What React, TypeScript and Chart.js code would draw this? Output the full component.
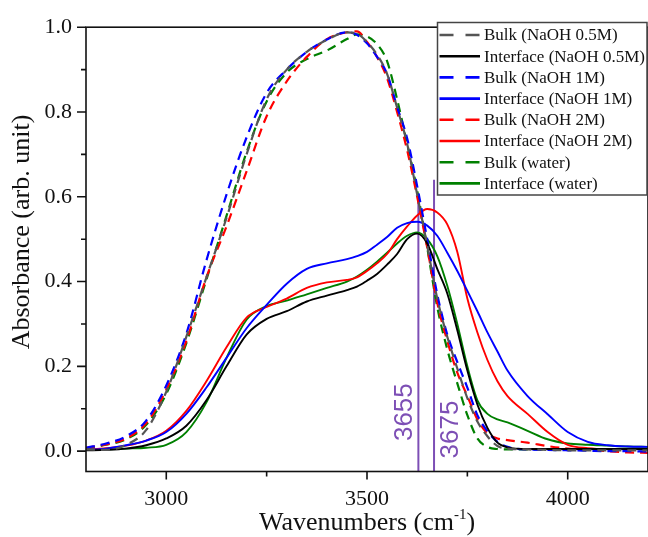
import React, { useEffect, useRef } from 'react';
import { Chart, registerables } from 'chart.js';

Chart.register(...registerables);

// ---------- data ----------
const wavenumbers = [2800, 2850, 2900, 2950, 3000, 3050, 3100, 3150, 3200, 3250, 3300, 3350, 3400, 3450, 3475, 3500, 3525, 3550, 3575, 3600, 3625, 3650, 3675, 3700, 3725, 3750, 3775, 3800, 3825, 3850, 3900, 3950, 4000, 4050, 4100, 4150, 4200];

const bulkNaOH05 = [0.004, 0.003, 0.015, 0.05, 0.14, 0.27, 0.41, 0.55, 0.7, 0.83, 0.9, 0.942, 0.97, 0.988, 0.985, 0.965, 0.935, 0.89, 0.81, 0.725, 0.605, 0.485, 0.36, 0.27, 0.195, 0.125, 0.07, 0.035, 0.012, 0.006, 0.004, 0.003, 0.002, 0.002, 0.002, 0.002, 0.002];
const interfaceNaOH05 = [0.002, 0.003, 0.006, 0.014, 0.03, 0.06, 0.12, 0.2, 0.275, 0.312, 0.33, 0.353, 0.367, 0.38, 0.388, 0.402, 0.418, 0.44, 0.465, 0.5, 0.513, 0.49, 0.43, 0.372, 0.285, 0.19, 0.11, 0.055, 0.02, 0.009, 0.005, 0.005, 0.005, 0.005, 0.005, 0.005, 0.005];
const bulkNaOH1 = [0.008, 0.018, 0.035, 0.072, 0.155, 0.277, 0.45, 0.605, 0.74, 0.845, 0.9, 0.942, 0.971, 0.988, 0.982, 0.962, 0.93, 0.89, 0.812, 0.738, 0.625, 0.5, 0.37, 0.275, 0.21, 0.15, 0.085, 0.047, 0.022, 0.01, 0.004, 0.003, 0.002, 0.001, 0.0, 0.0, -0.001];
const interfaceNaOH1 = [0.003, 0.006, 0.014, 0.025, 0.045, 0.088, 0.15, 0.22, 0.29, 0.345, 0.395, 0.43, 0.443, 0.453, 0.46, 0.47, 0.487, 0.505, 0.527, 0.538, 0.541, 0.532, 0.508, 0.468, 0.425, 0.378, 0.33, 0.28, 0.235, 0.19, 0.13, 0.087, 0.045, 0.022, 0.014, 0.011, 0.01];
const bulkNaOH2 = [0.008, 0.016, 0.03, 0.066, 0.145, 0.26, 0.41, 0.53, 0.66, 0.79, 0.872, 0.93, 0.972, 0.988, 0.99, 0.965, 0.93, 0.88, 0.8, 0.71, 0.6, 0.48, 0.35, 0.26, 0.185, 0.13, 0.075, 0.042, 0.03, 0.026, 0.02, 0.012, 0.006, 0.004, 0.0, -0.003, -0.004];
const interfaceNaOH2 = [0.003, 0.007, 0.013, 0.025, 0.048, 0.095, 0.165, 0.245, 0.315, 0.34, 0.36, 0.385, 0.398, 0.404, 0.41, 0.425, 0.443, 0.465, 0.5, 0.53, 0.556, 0.571, 0.563, 0.535, 0.47, 0.36, 0.28, 0.215, 0.165, 0.13, 0.088, 0.045, 0.015, 0.007, 0.005, 0.005, 0.005];
const bulkWater = [0.006, 0.015, 0.028, 0.062, 0.135, 0.255, 0.405, 0.555, 0.705, 0.825, 0.893, 0.925, 0.945, 0.972, 0.983, 0.978, 0.96, 0.92, 0.83, 0.725, 0.615, 0.48, 0.34, 0.24, 0.16, 0.085, 0.03, 0.01, 0.005, 0.004, 0.004, 0.004, 0.004, 0.004, 0.004, 0.004, 0.004];
const interfaceWater = [0.003, 0.004, 0.006, 0.008, 0.015, 0.045, 0.115, 0.22, 0.31, 0.342, 0.355, 0.37, 0.385, 0.4, 0.412, 0.428, 0.447, 0.468, 0.49, 0.508, 0.516, 0.5, 0.46, 0.39, 0.3, 0.2, 0.12, 0.088, 0.075, 0.068, 0.048, 0.028, 0.018, 0.015, 0.013, 0.011, 0.01];

const seriesLabels = ['Bulk (NaOH 0.5M)', 'Interface (NaOH 0.5M)', 'Bulk (NaOH 1M)', 'Interface (NaOH 1M)', 'Bulk (NaOH 2M)', 'Interface (NaOH 2M)', 'Bulk (water)', 'Interface (water)'];
const seriesValues = [bulkNaOH05, interfaceNaOH05, bulkNaOH1, interfaceNaOH1, bulkNaOH2, interfaceNaOH2, bulkWater, interfaceWater];
const seriesColors = ['#555555', '#000000', '#0000ff', '#0000ff', '#ff0000', '#ff0000', '#008000', '#008000'];
const seriesDashed = [true, false, true, false, true, false, true, false];

const markerPositions = [3628, 3667];
const markerTops = [0.605, 0.64];
const markerLabels = ['3655', '3675'];
const markerLabelY = [0.092, 0.051];

const xTickValues = [3000, 3250, 3500, 3750, 4000];
const xTickLabels = ['3000', '', '3500', '', '4000'];
const yTickValues = [0, 0.1, 0.2, 0.3, 0.4, 0.5, 0.6, 0.7, 0.8, 0.9, 1.0];
const yTickLabels = ['0.0', '', '0.2', '', '0.4', '', '0.6', '', '0.8', '', '1.0'];

const xMin = 2800, xMax = 4200, yMin = -0.048, yMax = 1.0;

const SERIF = '"Liberation Serif", "Times New Roman", serif';
const SANS = '"Liberation Sans", Arial, sans-serif';
const PURPLE = '#7d4fb5';

const decorPlugin = {
  id: 'decor',
  afterDraw(chart: any) {
    const { ctx, chartArea: a, scales } = chart;
    const xs = scales.x, ys = scales.y;
    ctx.save();
    // frame
    ctx.strokeStyle = '#111';
    ctx.lineWidth = 1.6;
    ctx.setLineDash([]);
    ctx.strokeRect(a.left, a.top, a.right - a.left, a.bottom - a.top);
    // ticks
    ctx.beginPath();
    xTickValues.forEach((v, i) => {
      const px = xs.getPixelForValue(v);
      const len = xTickLabels[i] ? 8 : 5;
      ctx.moveTo(px, a.bottom);
      ctx.lineTo(px, a.bottom + len);
    });
    yTickValues.forEach((v, i) => {
      const py = ys.getPixelForValue(v);
      const len = yTickLabels[i] ? 9 : 5;
      ctx.moveTo(a.left, py);
      ctx.lineTo(a.left - len, py);
    });
    ctx.stroke();

    // marker labels
    ctx.fillStyle = PURPLE;
    ctx.font = '26px ' + SANS;
    ctx.textAlign = 'center';
    ctx.textBaseline = 'middle';
    markerLabels.forEach((lab, i) => {
      const px = xs.getPixelForValue(markerPositions[i]) + (i === 0 ? -15 : 16);
      const py = ys.getPixelForValue(markerLabelY[i]);
      ctx.save();
      ctx.translate(px, py);
      ctx.rotate(-Math.PI / 2);
      ctx.fillText(lab, 0, 1);
      ctx.restore();
    });

    // legend
    const L = 437.5, T = 22.5, R = 647, B = 195;
    ctx.fillStyle = '#ffffff';
    ctx.fillRect(L, T, R - L, B - T);
    ctx.strokeStyle = '#444';
    ctx.lineWidth = 1.5;
    ctx.strokeRect(L, T, R - L, B - T);
    ctx.font = '17px ' + SERIF;
    ctx.textAlign = 'left';
    ctx.textBaseline = 'middle';
    seriesLabels.forEach((lab, i) => {
      const ds = chart.data.datasets[i];
      const cy = 35 + i * 21.2;
      ctx.strokeStyle = ds.borderColor;
      ctx.lineWidth = 2.6;
      ctx.setLineDash(seriesDashed[i] ? [14, 12] : []);
      ctx.beginPath();
      ctx.moveTo(439.5, cy);
      ctx.lineTo(480, cy);
      ctx.stroke();
      ctx.setLineDash([]);
      ctx.fillStyle = '#111';
      ctx.fillText(lab, 484, cy + 1);
    });

    // axis titles
    ctx.fillStyle = '#111';
    ctx.font = '26px ' + SERIF;
    ctx.textAlign = 'center';
    ctx.textBaseline = 'middle';
    ctx.save();
    ctx.translate(22, 232);
    ctx.rotate(-Math.PI / 2);
    ctx.fillText('Absorbance (arb. unit)', 0, 0);
    ctx.restore();

    const t1 = 'Wavenumbers (cm', t2 = '-1', t3 = ')';
    ctx.textAlign = 'left';
    ctx.textBaseline = 'alphabetic';
    ctx.font = '26px ' + SERIF;
    const w1 = ctx.measureText(t1).width, w3 = ctx.measureText(t3).width;
    ctx.font = '15px ' + SERIF;
    const w2 = ctx.measureText(t2).width;
    const cx = (a.left + a.right) / 2;
    let sx = cx - (w1 + w2 + w3) / 2;
    const base = 530;
    ctx.font = '26px ' + SERIF;
    ctx.fillText(t1, sx, base);
    sx += w1;
    ctx.font = '15px ' + SERIF;
    ctx.fillText(t2, sx, base - 11);
    sx += w2;
    ctx.font = '26px ' + SERIF;
    ctx.fillText(t3, sx, base);
    ctx.restore();
  },
};

export default function App() {
  const ref = useRef<HTMLCanvasElement | null>(null);
  useEffect(() => {
    if (!ref.current) return;
    const datasets: any[] = seriesValues.map((vals, i) => ({
      label: seriesLabels[i],
      data: wavenumbers.map((w, j) => ({ x: w, y: vals[j] })),
      borderColor: seriesColors[i],
      borderWidth: seriesDashed[i] ? 2.2 : 1.9,
      borderDash: seriesDashed[i] ? [9, 6] : [],
      pointRadius: 0,
      fill: false,
      cubicInterpolationMode: 'monotone',
    }));
    markerPositions.forEach((m, i) => {
      datasets.push({
        label: 'marker ' + markerLabels[i],
        data: [{ x: m, y: markerTops[i] }, { x: m, y: yMin }],
        borderColor: PURPLE,
        borderWidth: 2,
        pointRadius: 0,
        fill: false,
      });
    });
    const chart = new Chart(ref.current, {
      type: 'line',
      data: { datasets },
      options: {
        responsive: false,
        animation: false,
        events: [],
        layout: { padding: { top: 21, right: 0, left: 0, bottom: 0 } },
        plugins: { legend: { display: false }, tooltip: { enabled: false } },
        scales: {
          x: {
            type: 'linear',
            min: xMin,
            max: xMax,
            afterFit: (s: any) => { s.height = 65.5; },
            afterBuildTicks: (s: any) => { s.ticks = xTickValues.map((v) => ({ value: v })); },
            ticks: {
              autoSkip: false,
              maxRotation: 0,
              padding: 15,
              color: '#111',
              font: { family: SERIF, size: 22 },
              callback: (v: any, idx: number) => xTickLabels[idx],
            },
            grid: { display: false, drawTicks: false },
            border: { display: false },
          },
          y: {
            type: 'linear',
            min: yMin,
            max: yMax,
            afterFit: (s: any) => { s.width = 86; },
            afterBuildTicks: (s: any) => { s.ticks = yTickValues.map((v) => ({ value: v })); },
            ticks: {
              autoSkip: false,
              padding: 14,
              color: '#111',
              font: { family: SERIF, size: 22 },
              callback: (v: any, idx: number) => yTickLabels[idx],
            },
            grid: { display: false, drawTicks: false },
            border: { display: false },
          },
        },
      },
      plugins: [decorPlugin],
    });
    return () => chart.destroy();
  }, []);
  return (
    <div style={{ position: 'absolute', left: 0, top: 0, width: 648, height: 537, background: '#fff' }}>
      <canvas ref={ref} width={648} height={537} style={{ display: 'block' }} />
    </div>
  );
}
